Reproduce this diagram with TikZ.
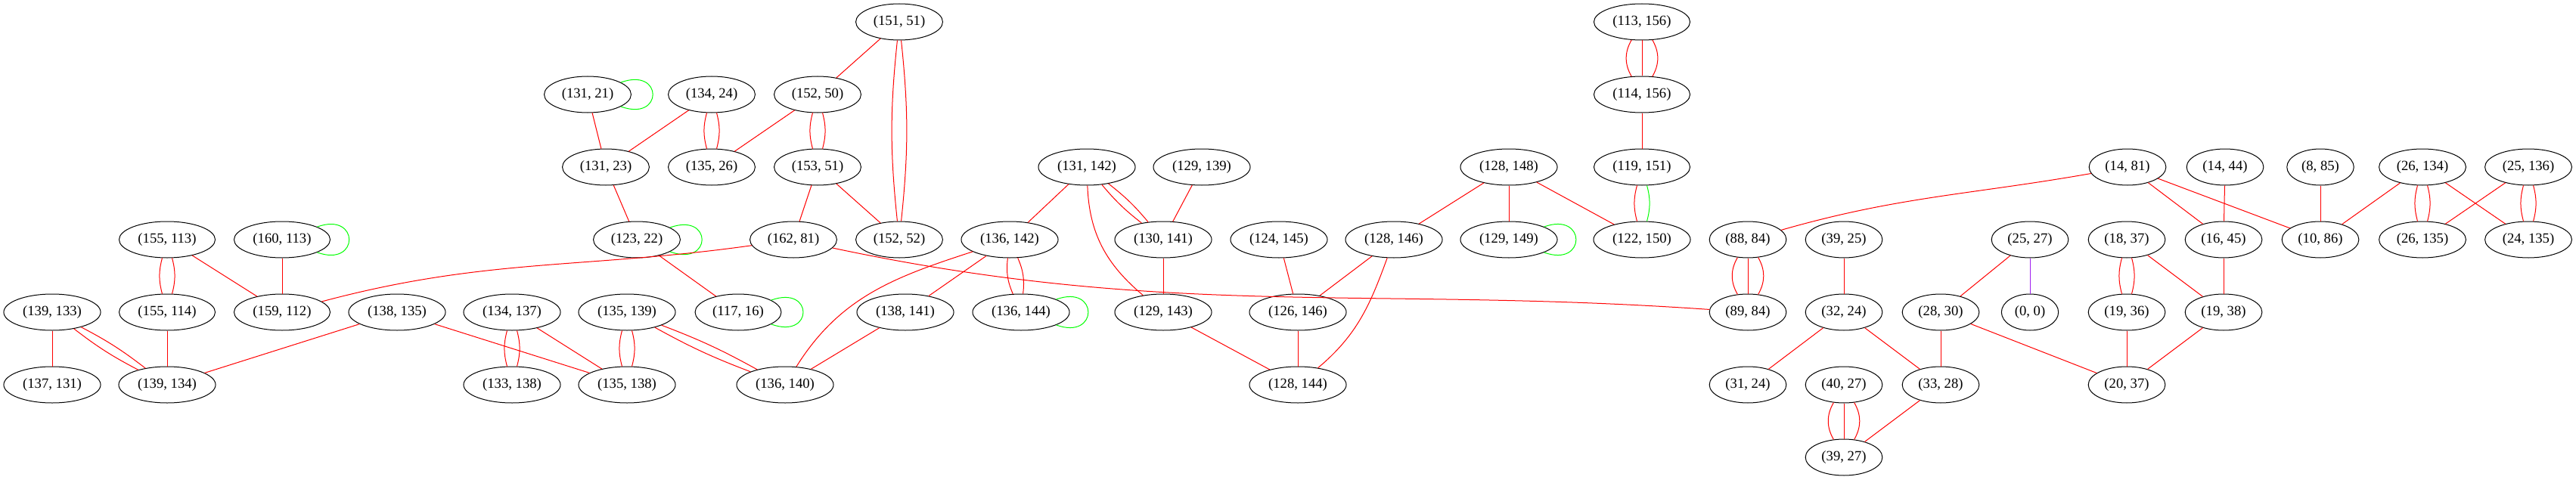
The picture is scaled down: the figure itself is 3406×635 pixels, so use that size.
\documentclass[tikz,border=0pt]{standalone}
\usepackage{fontspec}
\setmainfont{Liberation Serif}
\usetikzlibrary{shapes.geometric}
\definecolor{redcolor}{RGB}{255,0,0}
\definecolor{greencolor}{RGB}{0,255,0}
\definecolor{purplecolor}{RGB}{160,32,240}

\begin{document}
\begin{tikzpicture}[x=0.75pt,y=0.75pt,
  rline/.style={draw=redcolor,line width=0.75pt},
  gline/.style={draw=greencolor,line width=0.75pt},
  pline/.style={draw=purplecolor,line width=0.75pt},
  gloop/.style={gline,out=20,in=-20,min distance=45pt}]

\useasboundingbox (0,0) rectangle (3406,-635);

\begin{scope}[every node/.style={draw,ellipse,minimum height=36pt,inner xsep=4.8pt,inner ysep=2pt,line width=0.75pt,font=\fontsize{14pt}{16pt}\selectfont}]
% rank 0
\node (v151x51) at (1189,-29) {(151, 51)};
\node (v113x156) at (2171,-29) {(113, 156)};
% rank 1
\node (v131x21) at (777,-125) {(131, 21)};
\node (v134x24) at (941,-125) {(134, 24)};
\node (v152x50) at (1081,-125) {(152, 50)};
\node (v114x156) at (2171,-125) {(114, 156)};
% rank 2
\node (v131x23) at (801,-221) {(131, 23)};
\node (v135x26) at (941,-221) {(135, 26)};
\node (v153x51) at (1081,-221) {(153, 51)};
\node (v131x142) at (1437,-221) {(131, 142)};
\node (v129x139) at (1589,-221) {(129, 139)};
\node (v128x148) at (1995,-221) {(128, 148)};
\node (v119x151) at (2171,-221) {(119, 151)};
\node (v14x81) at (2813,-221) {(14, 81)};
\node (v14x44) at (2942,-221) {(14, 44)};
\node (v8x85) at (3068,-221) {(8, 85)};
\node (v26x134) at (3203,-221) {(26, 134)};
\node (v25x136) at (3343,-221) {(25, 136)};
% rank 3
\node (v155x113) at (221,-317) {(155, 113)};
\node (v160x113) at (373,-317) {(160, 113)};
\node (v123x22) at (842,-317) {(123, 22)};
\node (v162x81) at (1049,-317) {(162, 81)};
\node (v152x52) at (1189,-317) {(152, 52)};
\node (v136x142) at (1335,-317) {(136, 142)};
\node (v130x141) at (1538,-317) {(130, 141)};
\node (v124x145) at (1691,-317) {(124, 145)};
\node (v128x146) at (1843,-317) {(128, 146)};
\node (v129x149) at (1995,-317) {(129, 149)};
\node (v122x150) at (2171,-317) {(122, 150)};
\node (v88x84) at (2311,-317) {(88, 84)};
\node (v39x25) at (2438,-317) {(39, 25)};
\node (v25x27) at (2684,-317) {(25, 27)};
\node (v18x37) at (2812,-317) {(18, 37)};
\node (v16x45) at (2940,-317) {(16, 45)};
\node (v10x86) at (3068,-317) {(10, 86)};
\node (v26x135) at (3203,-317) {(26, 135)};
\node (v24x135) at (3343,-317) {(24, 135)};
% rank 4
\node (v139x133) at (69,-413) {(139, 133)};
\node (v155x114) at (221,-413) {(155, 114)};
\node (v159x112) at (373,-413) {(159, 112)};
\node (v138x135) at (525,-413) {(138, 135)};
\node (v134x137) at (677,-413) {(134, 137)};
\node (v135x139) at (829,-413) {(135, 139)};
\node (v117x16) at (976,-413) {(117, 16)};
\node (v138x141) at (1197,-413) {(138, 141)};
\node (v136x144) at (1350,-413) {(136, 144)};
\node (v129x143) at (1538,-413) {(129, 143)};
\node (v126x146) at (1716,-413) {(126, 146)};
\node (v89x84) at (2311,-413) {(89, 84)};
\node (v32x24) at (2438,-413) {(32, 24)};
\node (v28x30) at (2566,-413) {(28, 30)};
\node (v0x0) at (2684,-413) {(0, 0)};
\node (v19x36) at (2812,-413) {(19, 36)};
\node (v19x38) at (2940,-413) {(19, 38)};
% rank 5
\node (v137x131) at (69,-509) {(137, 131)};
\node (v139x134) at (221,-509) {(139, 134)};
\node (v133x138) at (677,-509) {(133, 138)};
\node (v135x138) at (829,-509) {(135, 138)};
\node (v136x140) at (1038,-509) {(136, 140)};
\node (v128x144) at (1716,-509) {(128, 144)};
\node (v31x24) at (2311,-509) {(31, 24)};
\node (v40x27) at (2438,-509) {(40, 27)};
\node (v33x28) at (2566,-509) {(33, 28)};
\node (v20x37) at (2812,-509) {(20, 37)};
% rank 6
\node (v39x27) at (2438,-605) {(39, 27)};
\end{scope}

% left block
\draw[rline] (v151x51) -- (v152x50);
\draw[rline] (v151x51) to[bend left=6] (v152x52);
\draw[rline] (v151x51) to[bend right=6] (v152x52);
\draw[gloop] (v131x21) to (v131x21);
\draw[rline] (v131x21) -- (v131x23);
\draw[rline] (v134x24) -- (v131x23);
\draw[rline] (v134x24) to[bend left=15] (v135x26);
\draw[rline] (v134x24) to[bend right=15] (v135x26);
\draw[rline] (v152x50) -- (v135x26);
\draw[rline] (v152x50) to[bend left=15] (v153x51);
\draw[rline] (v152x50) to[bend right=15] (v153x51);
\draw[rline] (v131x23) -- (v123x22);
\draw[gloop] (v123x22) to (v123x22);
\draw[rline] (v153x51) -- (v162x81);
\draw[rline] (v153x51) -- (v152x52);
\draw[rline] (v123x22) -- (v117x16);
\draw[gloop] (v117x16) to (v117x16);
\draw[rline] (v162x81) to[out=188,in=15] (v159x112);
\draw[rline] (v162x81) to[out=-12,in=176] (v89x84);
\draw[rline] (v155x113) to[bend left=15] (v155x114);
\draw[rline] (v155x113) to[bend right=15] (v155x114);
\draw[rline] (v155x113) -- (v159x112);
\draw[rline] (v160x113) -- (v159x112);
\draw[gloop] (v160x113) to (v160x113);
\draw[rline] (v139x133) -- (v137x131);
\draw[rline] (v139x133) to[bend left=5] (v139x134);
\draw[rline] (v139x133) to[bend right=5] (v139x134);
\draw[rline] (v155x114) -- (v139x134);
\draw[rline] (v138x135) -- (v139x134);
\draw[rline] (v138x135) -- (v135x138);
\draw[rline] (v134x137) to[bend left=15] (v133x138);
\draw[rline] (v134x137) to[bend right=15] (v133x138);
\draw[rline] (v134x137) -- (v135x138);
\draw[rline] (v135x139) to[bend left=15] (v135x138);
\draw[rline] (v135x139) to[bend right=15] (v135x138);
\draw[rline] (v135x139) to[bend left=4] (v136x140);
\draw[rline] (v135x139) to[bend right=4] (v136x140);

% middle block
\draw[rline] (v136x142) to[out=198,in=58] (v136x140);
\draw[rline] (v138x141) -- (v136x140);
\draw[rline] (v131x142) -- (v136x142);
\draw[rline] (v136x142) -- (v138x141);
\draw[rline] (v136x142) to[bend left=15] (v136x144);
\draw[rline] (v136x142) to[bend right=15] (v136x144);
\draw[gloop] (v136x144) to (v136x144);
\draw[rline] (v131x142) to[bend left=6] (v130x141);
\draw[rline] (v131x142) to[bend right=6] (v130x141);
\draw[rline] (v131x142) to[out=-88,in=140] (v129x143);
\draw[rline] (v129x139) -- (v130x141);
\draw[rline] (v130x141) -- (v129x143);
\draw[rline] (v129x143) -- (v128x144);
\draw[rline] (v124x145) -- (v126x146);
\draw[rline] (v128x146) -- (v126x146);
\draw[rline] (v126x146) -- (v128x144);
\draw[rline] (v128x146) to[out=-110,in=40] (v128x144);
\draw[rline] (v128x148) -- (v128x146);
\draw[rline] (v128x148) -- (v129x149);
\draw[gloop] (v129x149) to (v129x149);
\draw[rline] (v128x148) -- (v122x150);
\draw[rline] (v113x156) to[bend left=30] (v114x156);
\draw[rline] (v113x156) -- (v114x156);
\draw[rline] (v113x156) to[bend right=30] (v114x156);
\draw[rline] (v114x156) -- (v119x151);
\draw[rline] (v119x151) to[bend right=15] (v122x150);
\draw[gline] (v119x151) to[bend left=15] (v122x150);

% right block
\draw[rline] (v14x81) to[out=190,in=16] (v88x84);
\draw[rline] (v88x84) to[bend left=30] (v89x84);
\draw[rline] (v88x84) -- (v89x84);
\draw[rline] (v88x84) to[bend right=30] (v89x84);
\draw[rline] (v39x25) -- (v32x24);
\draw[rline] (v32x24) -- (v31x24);
\draw[rline] (v32x24) -- (v33x28);
\draw[rline] (v40x27) to[bend left=30] (v39x27);
\draw[rline] (v40x27) -- (v39x27);
\draw[rline] (v40x27) to[bend right=30] (v39x27);
\draw[rline] (v33x28) -- (v39x27);
\draw[rline] (v25x27) -- (v28x30);
\draw[pline] (v25x27) -- (v0x0);
\draw[rline] (v28x30) -- (v33x28);
\draw[rline] (v28x30) -- (v20x37);
\draw[rline] (v18x37) to[bend left=15] (v19x36);
\draw[rline] (v18x37) to[bend right=15] (v19x36);
\draw[rline] (v18x37) -- (v19x38);
\draw[rline] (v19x36) -- (v20x37);
\draw[rline] (v19x38) -- (v20x37);
\draw[rline] (v16x45) -- (v19x38);
\draw[rline] (v14x81) -- (v16x45);
\draw[rline] (v14x81) -- (v10x86);
\draw[rline] (v14x44) -- (v16x45);
\draw[rline] (v8x85) -- (v10x86);
\draw[rline] (v26x134) -- (v10x86);
\draw[rline] (v26x134) to[bend left=15] (v26x135);
\draw[rline] (v26x134) to[bend right=15] (v26x135);
\draw[rline] (v26x134) -- (v24x135);
\draw[rline] (v25x136) -- (v26x135);
\draw[rline] (v25x136) to[bend left=15] (v24x135);
\draw[rline] (v25x136) to[bend right=15] (v24x135);

\end{tikzpicture}
\end{document}
